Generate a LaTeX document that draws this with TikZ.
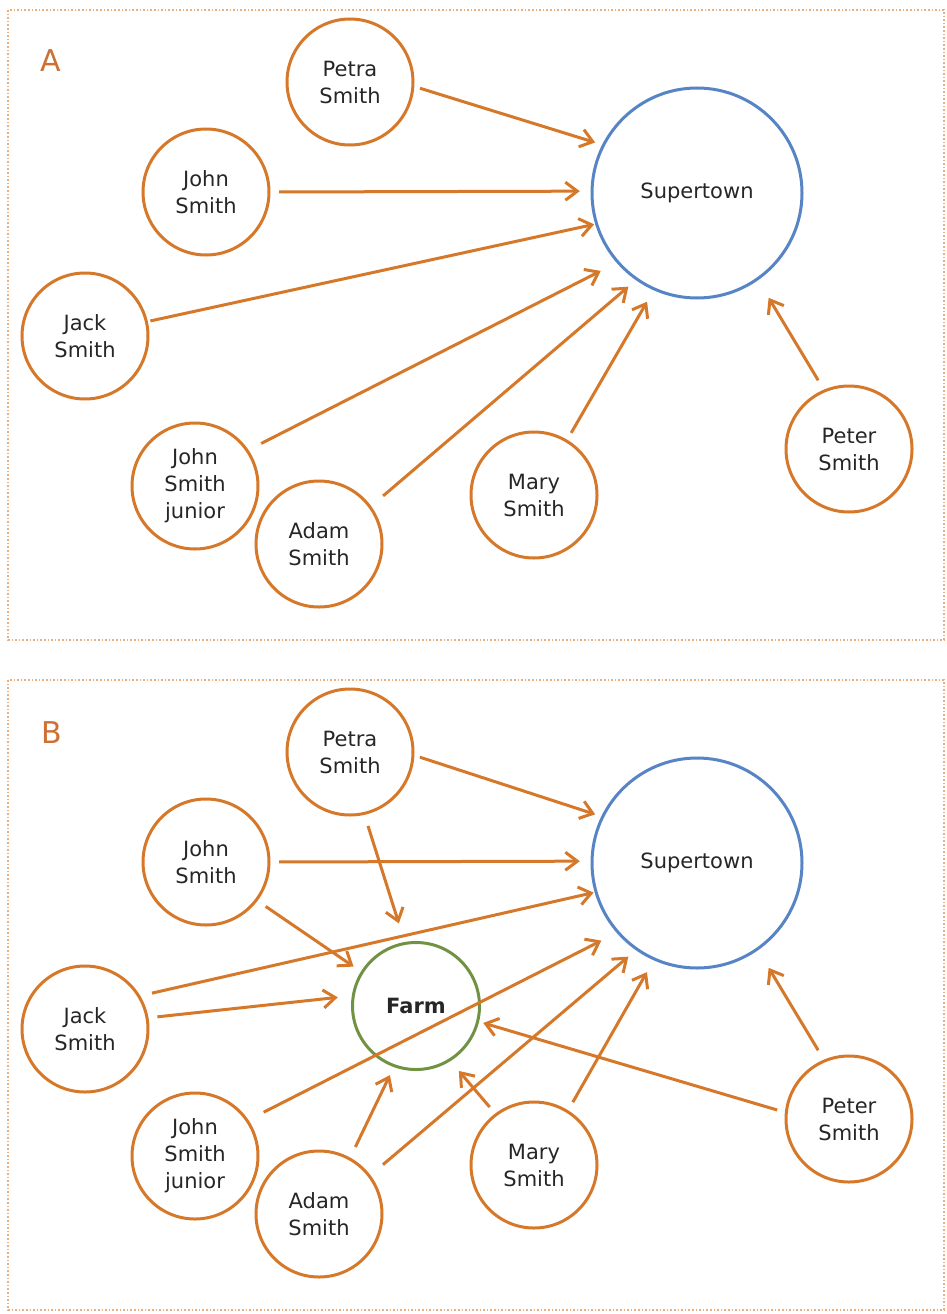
\documentclass[tikz,border=0pt]{standalone}
\usepackage{fontspec}
\setmainfont{DejaVu Sans}
\usetikzlibrary{arrows.meta}
\definecolor{orn}{RGB}{214,120,42}
\definecolor{blu}{RGB}{86,132,196}
\definecolor{grn}{RGB}{112,146,66}
\definecolor{framec}{RGB}{232,176,128}
\definecolor{lbl}{RGB}{205,112,52}
\begin{document}
\begin{tikzpicture}[x=1pt,y=-1pt,
  person/.style={circle, draw=orn, line width=3pt, minimum size=126pt, inner sep=0pt, align=center, font=\fontsize{21}{27}\selectfont, text=black!85},
  town/.style={circle, draw=blu, line width=3pt, minimum size=210pt, inner sep=0pt, align=center, font=\fontsize{21}{27}\selectfont, text=black!85},
  farmnode/.style={circle, draw=grn, line width=3pt, minimum size=127pt, inner sep=0pt, align=center, font=\bfseries\fontsize{21}{27}\selectfont, text=black!85},
  arr/.style={draw=orn, line width=3pt, -{Straight Barb[length=12pt,width=18pt]}},
  panel/.style={draw=framec, line width=1.6pt, dotted},
  plabel/.style={font=\fontsize{30}{30}\selectfont, text=lbl, inner sep=0pt}
]
\useasboundingbox (0,0) rectangle (947,1314);
% panels
\draw[panel] (8,10) rectangle (944,640);
\draw[panel] (8,680) rectangle (944,1310);
\node[plabel] (labA) at (51,61) {A};
\node[plabel] (labB) at (52,733) {B};

% ---------- Panel A ----------
\node[town]   (sA)  at (697,193) {Supertown};
\node[person] (pA)  at (350,82)  {Petra\\Smith};
\node[person] (jA)  at (206,192) {John\\Smith};
\node[person] (kA)  at (85,336)  {Jack\\Smith};
\node[person] (jjA) at (195,486) {John\\Smith\\junior};
\node[person] (aA)  at (319,544) {Adam\\Smith};
\node[person] (mA)  at (534,495) {Mary\\Smith};
\node[person] (tA)  at (849,449) {Peter\\Smith};

\draw[arr, shorten <=5.9pt, shorten >=7.3pt]  (pA.-4.1)  -- (sA.153.9);
\draw[arr, shorten <=8.7pt, shorten >=10.7pt] (jA.0)     -- (sA.179.5);
\draw[arr, shorten <=2.6pt, shorten >=1pt]    (kA.13.8)  -- (sA.-163.8);
\draw[arr, shorten <=14.2pt, shorten >=17.8pt] (jjA.34.1) -- (sA.-139.3);
\draw[arr, shorten <=15.7pt, shorten >=9.9pt] (aA.36.9)  -- (sA.-125.2);
\draw[arr, shorten <=7.9pt, shorten >=13.2pt] (mA.59.2)  -- (sA.-114.2);
\draw[arr, shorten <=10.9pt, shorten >=20.5pt] (tA.113.5) -- (sA.-55.9);

% ---------- Panel B ----------
\node[town]     (sB)  at (697,863)  {Supertown};
\node[farmnode] (fB)  at (416,1006) {Farm};
\node[person]   (pB)  at (350,752)  {Petra\\Smith};
\node[person]   (jB)  at (206,862)  {John\\Smith};
\node[person]   (kB)  at (85,1029)  {Jack\\Smith};
\node[person]   (jjB) at (195,1156) {John\\Smith\\junior};
\node[person]   (aB)  at (319,1214) {Adam\\Smith};
\node[person]   (mB)  at (534,1165) {Mary\\Smith};
\node[person]   (tB)  at (849,1119) {Peter\\Smith};

\draw[arr, shorten <=5.8pt, shorten >=6.4pt]   (pB.-3.3)   -- (sB.154.8);
\draw[arr, shorten <=8.7pt, shorten >=10.7pt]  (jB.0)      -- (sB.179.5);
\draw[arr, shorten <=12pt, shorten >=1pt]      (kB.31.6)   -- (sB.-164.3);
\draw[arr, shorten <=11.6pt, shorten >=19.5pt] (pB.-77.1)  -- (fB.100.2);
\draw[arr, shorten <=9.9pt, shorten >=8.8pt]   (jB.-37.3)  -- (fB.148.9);
\draw[arr, shorten <=8.9pt, shorten >=14.1pt]  (kB.10.2)   -- (fB.171.3);
\draw[arr, shorten <=17pt, shorten >=17.1pt]   (jjB.34.5)  -- (sB.-139.6);
\draw[arr, shorten <=11.8pt, shorten >=8.9pt]  (aB.61.7)   -- (fB.-110.6);
\draw[arr, shorten <=16.3pt, shorten >=9.9pt]  (aB.37.4)   -- (sB.-125.2);
\draw[arr, shorten <=8.5pt, shorten >=12.9pt]  (mB.127.2)  -- (fB.-58.2);
\draw[arr, shorten <=9.3pt, shorten >=13.6pt]  (mB.58.9)   -- (sB.-114.6);
\draw[arr, shorten <=8pt, shorten >=4.3pt]     (tB.174.4)  -- (fB.-14.2);
\draw[arr, shorten <=10.9pt, shorten >=20.5pt] (tB.113.5)  -- (sB.-55.9);
\end{tikzpicture}
\end{document}
